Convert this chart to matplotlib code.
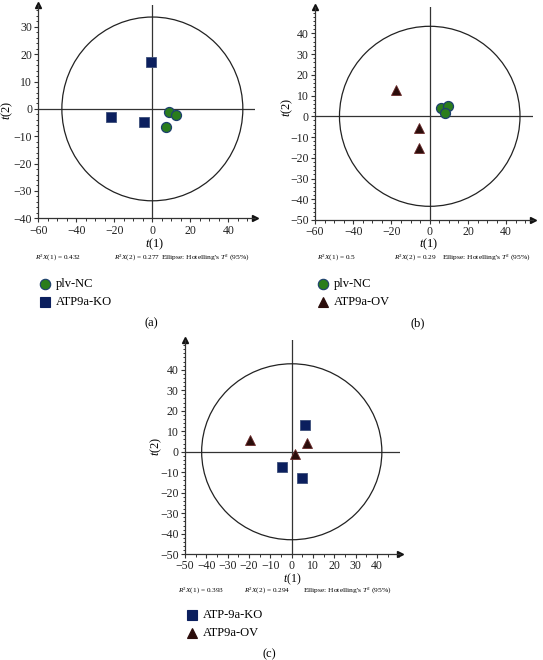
import numpy as np
import matplotlib
matplotlib.use('Agg')
from matplotlib import pyplot as plt
from matplotlib.patches import Ellipse
from matplotlib.ticker import MultipleLocator

plt.rcParams['font.family'] = ['Liberation Serif', 'DejaVu Serif']
plt.rcParams['mathtext.fontset'] = 'custom'
plt.rcParams['mathtext.rm'] = 'Liberation Serif'
plt.rcParams['mathtext.it'] = 'Liberation Serif:italic'
plt.rcParams['axes.unicode_minus'] = True

# ---- data ----
# (a) plv-NC vs ATP9a-KO
a_nc_x = [8.8, 12.5, 7.1]
a_nc_y = [-1.0, -2.2, -6.7]
a_ko_x = [-0.7, -21.7, -4.4]
a_ko_y = [17.1, -3.0, -4.8]
a_r2 = ['0.432', '0.277']

# (b) plv-NC vs ATP9a-OV
b_nc_x = [6.0, 9.3, 7.8]
b_nc_y = [4.0, 5.2, 1.5]
b_ov_x = [-17.4, -5.4, -5.4]
b_ov_y = [12.5, -5.6, -15.2]
b_r2 = ['0.5', '0.29']

# (c) ATP-9a-KO vs ATP9a-OV
c_ko_x = [6.4, -4.7, 4.7]
c_ko_y = [12.9, -7.6, -12.7]
c_ov_x = [-19.5, 7.0, 1.7]
c_ov_y = [5.5, 4.3, -1.1]
c_r2 = ['0.393', '0.294']

# Hotelling T2 ellipse semi axes
a_ell = (47.6, 33.6)
b_ell = (47.2, 43.4)
c_ell = (42.2, 42.9)

GREEN = '#2a7d1c'
NAVY = '#0b1f5e'
BROWN = '#2b0d0b'
W, H = 543, 660


def fx(px):
    return px / W


def fy(py):
    return 1 - py / H


fig = plt.figure(figsize=(W / 100, H / 100), dpi=100)


def make_axes(rect, xlim, ylim, xmin, ymin, xticks, yticks, ell, ylab_xy, xpad=1.5):
    ax = fig.add_axes(rect)
    ax.set_xlim(*xlim)
    ax.set_ylim(*ylim)
    for s in ['top', 'right']:
        ax.spines[s].set_visible(False)
    for s in ['left', 'bottom']:
        ax.spines[s].set_color('#333333')
        ax.spines[s].set_linewidth(0.9)
    ax.set_xticks(xticks)
    ax.set_yticks(yticks)
    ax.xaxis.set_minor_locator(MultipleLocator(xmin))
    ax.yaxis.set_minor_locator(MultipleLocator(ymin))
    ax.tick_params(which='major', direction='out', length=3, width=0.8,
                   labelsize=8.5, colors='#333333', labelcolor='#222222', pad=1.5)
    ax.tick_params(axis='x', which='major', pad=xpad)
    ax.tick_params(which='minor', direction='out', length=1.8, width=0.7, colors='#333333')
    ax.axhline(0, color='#333333', lw=0.9, zorder=1)
    ax.axvline(0, color='#333333', lw=0.9, zorder=1)
    ax.add_patch(Ellipse((0, 0), 2 * ell[0], 2 * ell[1], fill=False,
                         ec='#222222', lw=0.9, zorder=1))
    ax.plot(1, 0, '>', color='#111111', ms=4.5, transform=ax.transAxes, clip_on=False)
    ax.plot(0, 1, '^', color='#111111', ms=4.5, transform=ax.transAxes, clip_on=False)
    fig.text(fx(ylab_xy[0]), fy(ylab_xy[1]), '$t$(2)', fontsize=9, rotation=90,
             ha='center', va='center')
    return ax


def circles(ax, x, y):
    ax.plot(x, y, 'o', ms=7.2, mfc=GREEN, mec='#1c3f6e', mew=0.9, ls='none', zorder=3)


def squares(ax, x, y):
    ax.plot(x, y, 's', ms=7.2, mfc=NAVY, mec='#3d4f7a', mew=0.6, ls='none', zorder=3)


def triangles(ax, x, y):
    ax.plot(x, y, '^', ms=6.8, mfc=BROWN, mec='#6b2a2a', mew=0.6, ls='none', zorder=3)


def footer(tx, ty, r2, x1, x2, x3, ry, tsize=9):
    fig.text(fx(tx), fy(ty), '$t$(1)', fontsize=tsize, ha='center', va='center')
    fig.text(fx(x1), fy(ry), '$R^2X$(1) = ' + r2[0], fontsize=5.2, ha='left', va='center')
    fig.text(fx(x2), fy(ry), '$R^2X$(2) = ' + r2[1], fontsize=5.2, ha='left', va='center')
    fig.text(fx(x3), fy(ry), "Ellipse: Hotelling's $T^2$ (95%)", fontsize=5.4,
             ha='left', va='center')


def legend_item(mx, my, marker, ms, fc, ec, label):
    fig.lines.append(plt.Line2D([fx(mx)], [fy(my)], marker=marker, ms=ms, mfc=fc, mec=ec,
                                mew=0.8, ls='none', transform=fig.transFigure))
    fig.text(fx(mx + 11), fy(my), label, fontsize=9, ha='left', va='center')


# ---- panel (a) ----
ax_a = make_axes([fx(38.3), fy(218.3), fx(255 - 38.3), (218.3 - 5) / H],
                 (-60, 54), (-40, 38), 5, 2,
                 [-60, -40, -20, 0, 20, 40], list(range(-40, 31, 10)), a_ell, (7, 110))
circles(ax_a, a_nc_x, a_nc_y)
squares(ax_a, a_ko_x, a_ko_y)
footer(155, 244.5, a_r2, 35, 114, 161, 257.5)
legend_item(45, 283.5, 'o', 7.5, GREEN, '#1c3f6e', 'plv-NC')
legend_item(45, 302.5, 's', 7, NAVY, NAVY, 'ATP9a-KO')
fig.text(fx(151), fy(323), '(a)', fontsize=9, ha='center', va='center')

# ---- panel (b) ----
ax_b = make_axes([fx(315), fy(220), fx(533 - 315), (220 - 7) / H],
                 (-60, 54), (-50, 52.7), 5, 2,
                 [-60, -40, -20, 0, 20, 40], list(range(-50, 41, 10)), b_ell, (287, 107))
circles(ax_b, b_nc_x, b_nc_y)
triangles(ax_b, b_ov_x, b_ov_y)
footer(428.5, 244.5, b_r2, 316.7, 394, 441.5, 257.5)
legend_item(323.3, 283.5, 'o', 7.5, GREEN, '#1c3f6e', 'plv-NC')
legend_item(323.3, 302.5, '^', 7, BROWN, BROWN, 'ATP9a-OV')
fig.text(fx(418), fy(323), '(b)', fontsize=9, ha='center', va='center')

# ---- panel (c) ----
ax_c = make_axes([fx(185), fy(554.3), fx(400 - 185), (554.3 - 340) / H],
                 (-50, 50.7), (-50, 54.5), 5, 2,
                 list(range(-50, 41, 10)), list(range(-50, 41, 10)), c_ell, (156, 446),
                 xpad=0.8)
squares(ax_c, c_ko_x, c_ko_y)
triangles(ax_c, c_ov_x, c_ov_y)
footer(291.7, 579.5, c_r2, 178.3, 244.5, 303, 590.5, tsize=8.5)
legend_item(191.7, 614.5, 's', 7, NAVY, NAVY, 'ATP-9a-KO')
legend_item(191.7, 632.5, '^', 7, BROWN, BROWN, 'ATP9a-OV')
fig.text(fx(269.5), fy(654), '(c)', fontsize=9, ha='center', va='center')

fig.savefig('out.png', dpi=100)
